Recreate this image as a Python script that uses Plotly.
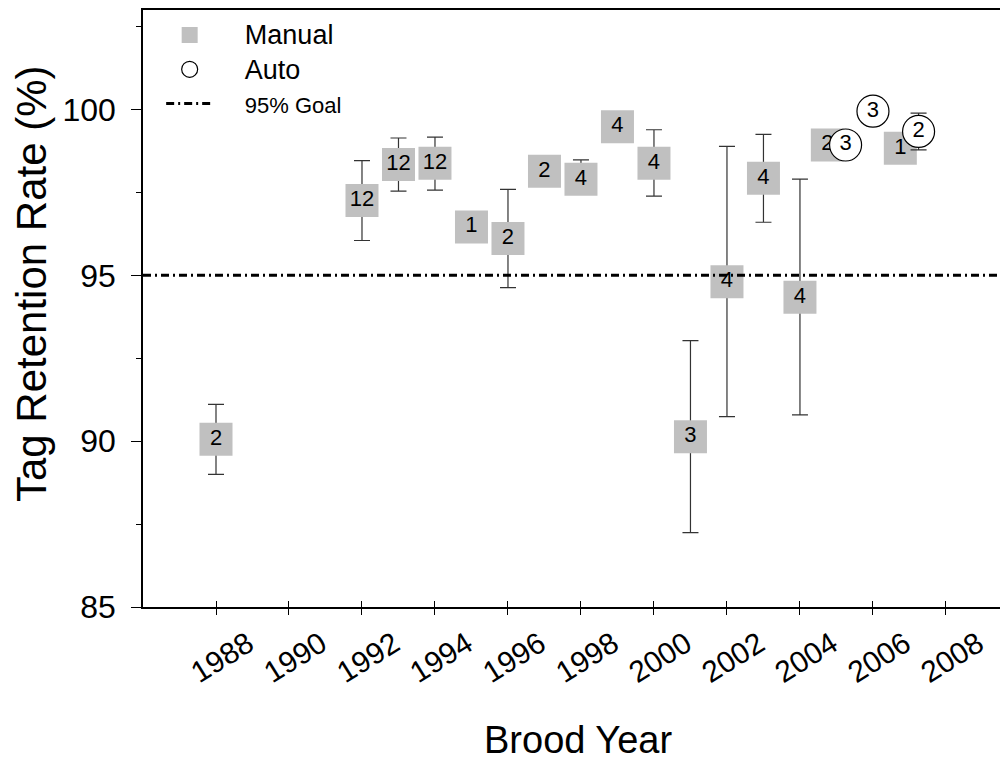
import plotly.graph_objects as go

# ---------------- data ----------------
years_manual = [1988, 1992, 1993, 1994, 1995, 1996, 1997, 1998, 1999, 2000,
                2001, 2002, 2003, 2004, 2005, 2007]
rate_manual = [90.06, 97.26, 98.34, 98.38, 96.46, 96.11, 98.14, 97.90, 99.48, 98.38,
               90.13, 94.81, 97.93, 94.34, 98.93, 98.83]
upper_manual = [91.11, 98.46, 99.14, 99.17, None, 97.59, None, 98.48, None, 99.39,
                93.03, 98.89, 99.25, 97.90, None, None]
lower_manual = [89.00, 96.05, 97.54, 97.57, None, 94.63, None, 97.45, None, 97.39,
                87.24, 90.74, 96.60, 90.79, None, None]
n_manual = [2, 12, 12, 12, 1, 2, 2, 4, 4, 4, 3, 4, 4, 4, 2, 1]

years_auto = [2005, 2006, 2007]
rate_auto = [98.93, 99.95, 99.34]
upper_auto = [None, None, 99.89]
lower_auto = [None, None, 98.78]
n_auto = [3, 3, 2]

goal = 95
tick_years = [1988, 1990, 1992, 1994, 1996, 1998, 2000, 2002, 2004, 2006, 2008]
tick_labels = [str(y) for y in tick_years]
x_range = [1986, 2009.7]
y_range = [85, 103]

FONT = "Liberation Sans, Arial, sans-serif"
NB = "\u00a0"

# side-by-side offset when both methods exist in the same year
both = set(years_manual) & set(years_auto)
x_manual = [y - 0.25 if y in both else y for y in years_manual]
x_auto = [y + 0.25 if y in both else y for y in years_auto]


def plus_minus(vals, up, lo):
    plus = [(u - v) if u is not None else None for v, u in zip(vals, up)]
    minus = [(v - l) if l is not None else None for v, l in zip(vals, lo)]
    return plus, minus


pm_plus, pm_minus = plus_minus(rate_manual, upper_manual, lower_manual)
pa_plus, pa_minus = plus_minus(rate_auto, upper_auto, lower_auto)

fig = go.Figure()

fig.add_trace(go.Scatter(
    x=x_manual, y=rate_manual, mode="markers+text",
    name=NB * 4 + "<span style='font-size:27px'>Manual</span>",
    text=[str(n) for n in n_manual], textposition="middle center",
    textfont=dict(family=FONT, size=22, color="black"),
    marker=dict(symbol="square", size=33, color="#c0c0c0", line=dict(width=0)),
    error_y=dict(type="data", symmetric=False, array=pm_plus, arrayminus=pm_minus,
                 color="#333333", thickness=1.2, width=8),
    legendrank=1, cliponaxis=False,
))

fig.add_trace(go.Scatter(
    x=x_range, y=[goal, goal], mode="lines",
    name=NB * 4 + "<span style='font-size:22px'>95% Goal</span>",
    line=dict(color="black", width=3, dash="8px,4px,2px,4px"),
    legendrank=3,
))

fig.add_trace(go.Scatter(
    x=x_auto, y=rate_auto, mode="markers+text",
    name=NB * 4 + "<span style='font-size:27px'>Auto</span>",
    text=[str(n) for n in n_auto], textposition="middle center",
    textfont=dict(family=FONT, size=22, color="black"),
    marker=dict(symbol="circle", size=32, color="white", line=dict(width=1.2, color="black")),
    error_y=dict(type="data", symmetric=False, array=pa_plus, arrayminus=pa_minus,
                 color="#333333", thickness=1.2, width=8),
    legendrank=2, cliponaxis=False,
))

# invisible helper trace on overlay axis for inside x ticks
fig.add_trace(go.Scatter(x=x_range, y=y_range, xaxis="x2", mode="markers",
                         marker=dict(opacity=0), showlegend=False, hoverinfo="skip"))

fig.update_layout(
    width=1000, height=756,
    margin=dict(l=135, r=0, t=0, b=157),
    paper_bgcolor="white", plot_bgcolor="white",
    font=dict(family=FONT, color="black"),
    showlegend=True,
    legend=dict(x=0.021, y=0.995, xanchor="left", yanchor="top",
                font=dict(family=FONT, size=24, color="black"),
                bgcolor="rgba(0,0,0,0)", itemwidth=47, traceorder="normal"),
    xaxis=dict(range=x_range, tickvals=tick_years, ticktext=tick_labels,
               tickangle=-32, tickfont=dict(family=FONT, size=30),
               ticks="outside", ticklen=6, tickwidth=1, tickcolor="black",
               ticklabelshift=32, ticklabelstandoff=0,
               showline=True, linecolor="black", linewidth=1.5, mirror=True,
               showgrid=False, zeroline=False),
    xaxis2=dict(range=x_range, overlaying="x", anchor="y", side="bottom",
                tickvals=tick_years, showticklabels=False,
                ticks="inside", ticklen=6, tickwidth=1, tickcolor="black",
                showline=False, showgrid=False, zeroline=False),
    yaxis=dict(range=y_range, tick0=85, dtick=5, tickfont=dict(family=FONT, size=32),
               ticks="outside", ticklen=10, tickwidth=1, tickcolor="black",
               minor=dict(dtick=2.5, ticks="outside", ticklen=5, tickwidth=1,
                          tickcolor="black", showgrid=False),
               ticklabelstandoff=9,
               showline=True, linecolor="black", linewidth=1.5,
               showgrid=False, zeroline=False),
    annotations=[
        dict(text="Brood Year", xref="paper", yref="paper", x=0.503, y=-0.222,
             xanchor="center", yanchor="middle", showarrow=False,
             font=dict(family=FONT, size=38, color="black")),
        dict(text="Tag Retention Rate (%)", xref="paper", yref="paper",
             x=-0.1295, y=0.5426, xanchor="center", yanchor="middle",
             textangle=-90, showarrow=False,
             font=dict(family=FONT, size=42, color="black")),
    ],
)

fig.write_html("out.html")
